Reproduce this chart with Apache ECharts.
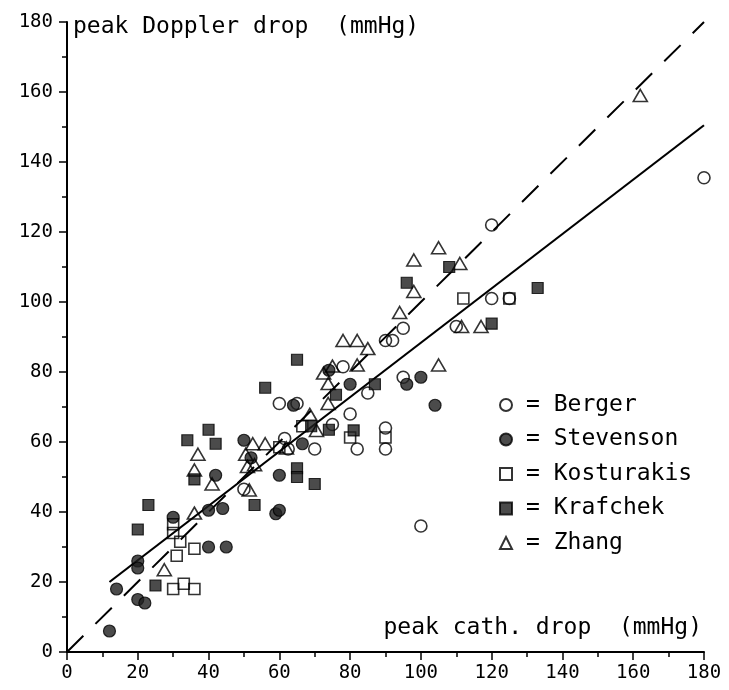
<!DOCTYPE html>
<html>
<head>
<meta charset="utf-8">
<script src="https://cdn.jsdelivr.net/npm/echarts@6/dist/echarts.min.js"></script>
<style>
html,body{margin:0;padding:0;background:#fff;}
#chart{width:729px;height:690px;}
</style>
</head>
<body>
<div id="chart"></div>
<script>
// ---- Data (peak cath. drop vs peak Doppler drop, mmHg) ----
const bergerX = [50, 60, 65, 61.5, 62.5, 70, 75, 78, 80, 82, 85, 90, 90, 90, 92, 95, 95, 110, 120, 125, 120, 100, 180];
const bergerY = [46.5, 71, 71, 61, 58, 58, 65, 81.5, 68, 58, 74, 64, 58, 89, 89, 92.5, 78.5, 93, 101, 101, 122, 36, 135.5];

const stevensonX = [12, 14, 20, 22, 20, 20, 30, 40, 45, 40, 44, 42, 50, 52, 59, 60, 60, 64, 66.5, 74, 80, 96, 100, 104];
const stevensonY = [6, 18, 15, 14, 26, 24, 38.5, 30, 30, 40.5, 41, 50.5, 60.5, 55.5, 39.5, 40.5, 50.5, 70.5, 59.5, 80.5, 76.5, 76.5, 78.5, 70.5];

const kosturakisX = [30, 33, 36, 31, 32, 36, 30, 30, 60, 66.5, 80, 90, 112, 125];
const kosturakisY = [18, 19.5, 18, 27.5, 31.5, 29.5, 36.5, 34, 58.5, 64.5, 61.3, 61.3, 101, 101];

const krafchekX = [20, 23, 25, 34, 40, 42, 36, 53, 56, 65, 65, 65, 70, 69, 74, 76, 81, 87, 96, 108, 120, 133];
const krafchekY = [35, 42, 19, 60.5, 63.5, 59.5, 49.3, 42, 75.5, 83.5, 52.5, 50, 48, 64.5, 63.5, 73.5, 63.3, 76.5, 105.5, 110, 93.8, 104];

const zhangX = [27.5, 36, 36, 37, 41, 50.5, 51, 53, 51.5, 52.5, 56, 62, 68.6, 70.5, 72.5, 73.8, 73.8, 75, 78, 82, 82, 85, 94, 98, 98, 105, 105, 111, 111.5, 117, 162];
const zhangY = [23.5, 39.7, 52, 56.5, 48, 56.5, 53, 53.5, 46.3, 59.5, 59.5, 58.3, 67.9, 63.3, 79.7, 76.7, 71, 81.7, 89, 89, 82, 86.7, 97, 103, 112, 115.5, 82, 111, 93, 93, 159];

// reference lines
const identityX = [0, 180];
const identityY = [0, 180];
const fitX = [12, 180];
const fitY = [20, 150.5];

const xTicks = {min: 0, max: 180, step: 20};
const yTicks = {min: 0, max: 180, step: 20};

const seriesNames = ['Berger', 'Stevenson', 'Kosturakis', 'Krafchek', 'Zhang'];
const yTitle = 'peak Doppler drop  (mmHg)';
const xTitle = 'peak cath. drop  (mmHg)';

function zip(xs, ys) { return xs.map((x, i) => [x, ys[i]]); }

const MONO = '"DejaVu Sans Mono", "Liberation Mono", monospace';
const openStyle = {color: 'rgba(255,255,255,0)', borderColor: '#000', borderWidth: 1.6};
const filledStyle = {color: '#1e1e1e', borderColor: '#000', borderWidth: 1.2};

const chart = echarts.init(document.getElementById('chart'), null, {renderer: 'canvas'});

const axisCommon = {
  type: 'value',
  splitLine: {show: false},
  axisLine: {show: true, onZero: false, lineStyle: {color: '#000', width: 2}},
  axisTick: {show: true, inside: false, length: 8, lineStyle: {color: '#000', width: 1.5}},
  minorTick: {show: true, splitNumber: 2, length: 5, lineStyle: {color: '#000', width: 1.5}},
  axisLabel: {color: '#000', fontSize: 19, fontFamily: MONO}
};

chart.setOption({
  animation: false,
  backgroundColor: '#fff',
  grid: {left: 67, right: 25, top: 22, bottom: 38, containLabel: false},
  xAxis: Object.assign({}, axisCommon, {
    min: xTicks.min, max: xTicks.max, interval: xTicks.step,
    axisLabel: Object.assign({}, axisCommon.axisLabel, {margin: 12})
  }),
  yAxis: Object.assign({}, axisCommon, {
    min: yTicks.min, max: yTicks.max, interval: yTicks.step,
    axisLabel: Object.assign({}, axisCommon.axisLabel, {margin: 14})
  }),
  legend: {
    data: seriesNames,
    orient: 'vertical',
    left: 499,
    top: 393,
    padding: 0,
    itemWidth: 12,
    itemHeight: 12,
    itemGap: 10.5,
    itemTextGap: 16,
    selectedMode: false,
    formatter: name => '{g|}= ' + name,
    textStyle: {color: '#000', fontSize: 23, fontFamily: MONO, lineHeight: 24,
      rich: {g: {width: 9, height: 1}}}
  },
  graphic: [
    {type: 'text', left: 73, top: 16, style: {text: yTitle, font: '23px ' + MONO, fill: '#000'}},
    {type: 'text', right: 27, top: 617, style: {text: xTitle, font: '23px ' + MONO, fill: '#000'}}
  ],
  series: [
    {type: 'line', data: zip(identityX, identityY), symbol: 'none', silent: true, z: 1,
     lineStyle: {color: '#000', width: 2, type: [23, 17]}},
    {type: 'line', data: zip(fitX, fitY), symbol: 'none', silent: true, z: 1,
     lineStyle: {color: '#000', width: 2.2, type: 'solid'}},
    {name: 'Berger', type: 'scatter', data: zip(bergerX, bergerY), symbol: 'circle', symbolSize: 12, itemStyle: openStyle, z: 3},
    {name: 'Stevenson', type: 'scatter', data: zip(stevensonX, stevensonY), symbol: 'circle', symbolSize: 12, itemStyle: filledStyle, z: 3},
    {name: 'Kosturakis', type: 'scatter', data: zip(kosturakisX, kosturakisY), symbol: 'rect', symbolSize: 11, itemStyle: openStyle, z: 3},
    {name: 'Krafchek', type: 'scatter', data: zip(krafchekX, krafchekY), symbol: 'rect', symbolSize: 11, itemStyle: filledStyle, z: 3},
    {name: 'Zhang', type: 'scatter', data: zip(zhangX, zhangY), symbol: 'triangle', symbolSize: [14, 12], itemStyle: openStyle, z: 3}
  ]
});
</script>
</body>
</html>
